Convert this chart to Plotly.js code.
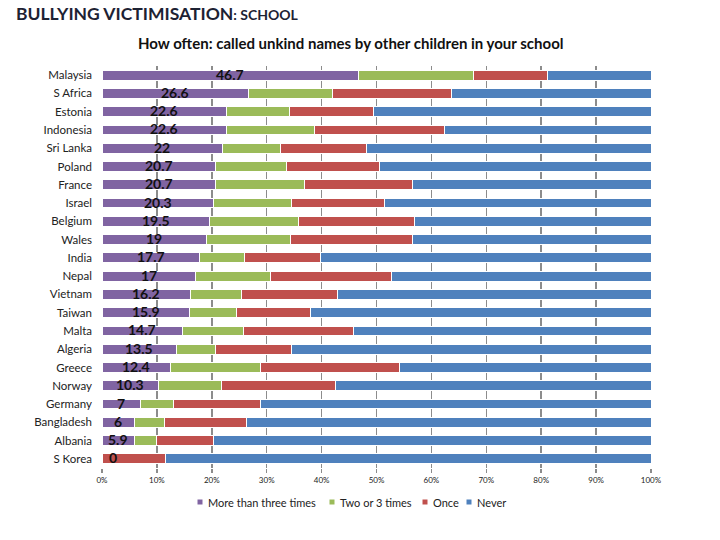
<!DOCTYPE html>
<html>
<head>
<meta charset="utf-8">
<script src="https://cdn.plot.ly/plotly-3.0.1.min.js"></script>
<style>html,body{margin:0;padding:0;background:#fff;}#chart{width:720px;height:540px;}</style>
</head>
<body>
<div id="chart"></div>
<script>
const countries = ["Malaysia","S Africa","Estonia","Indonesia","Sri Lanka","Poland","France","Israel","Belgium","Wales","India","Nepal","Vietnam","Taiwan","Malta","Algeria","Greece","Norway","Germany","Bangladesh","Albania","S Korea"];
const moreThanThree = [46.7,26.6,22.6,22.6,22,20.7,20.7,20.3,19.5,19,17.7,17,16.2,15.9,14.7,13.5,12.4,10.3,7,6,5.9,0];
const twoOrThree   = [21.0,15.3,11.5,16.1,10.5,12.9,16.2,14.3,16.3,15.3,8.2,13.7,9.2,8.6,11.0,7.1,16.5,11.4,6.1,5.3,4.1,0];
const once         = [13.4,21.8,15.3,23.6,15.6,17.0,19.6,16.8,21.2,22.3,13.9,22.0,17.5,13.4,20.2,13.9,25.3,20.8,15.7,15.0,10.3,11.5];
const never        = [18.9,36.3,50.6,37.7,51.9,49.4,43.5,48.6,43.0,43.4,60.2,47.3,57.1,62.1,54.1,65.5,45.8,57.5,71.2,73.7,79.7,88.5];
const seriesNames = ["More than three times","Two or 3 times","Once","Never"];
const colors = ["#8064A2","#9BBB59","#C0504D","#4F81BD"];

const FONT = "Lato, 'Open Sans', sans-serif";
const M = {l: 102, r: 69, t: 66, b: 72};
const W = 720, H = 540;
const pw = W - M.l - M.r, ph = H - M.t - M.b;
const px = x => (x - M.l) / pw;
const py = y => (H - M.b - y) / ph;

const allSeries = [moreThanThree, twoOrThree, once, never];
const traces = allSeries.map((vals, i) => ({
  type: "bar", orientation: "h",
  x: vals, y: countries, name: seriesNames[i],
  marker: {color: colors[i], line: {color: "#ffffff", width: 1}},
  showlegend: false, hoverinfo: "x+name"
}));

// data labels for the first series, centred in its segment
const dataLabels = countries.map((c, i) => ({
  xref: "x", yref: "y", x: Math.max(moreThanThree[i] / 2, 2), y: c,
  text: "<b>" + moreThanThree[i] + "</b>", showarrow: false,
  xanchor: "center", yanchor: "middle", yshift: 1,
  font: {family: FONT, size: 14, color: "#111"}
}));

// manual legend (small square markers as in the reference)
const legendMarkX = [200, 332, 425, 469];
const legendY = 502;
const shapes = legendMarkX.map((x, i) => ({
  type: "rect", xref: "paper", yref: "paper",
  x0: px(x - 2.5), x1: px(x + 2.5), y0: py(legendY + 2.5), y1: py(legendY - 2.5),
  fillcolor: colors[i], line: {width: 0}
}));
const legendAnn = legendMarkX.map((x, i) => ({
  xref: "paper", yref: "paper", x: px(x + 6), y: py(legendY), xanchor: "left", yanchor: "middle",
  text: seriesNames[i], showarrow: false, font: {size: 11, family: FONT, color: "#222"}
}));

const layout = {
  width: W, height: H,
  margin: M,
  barmode: "stack", bargap: 0.46,
  paper_bgcolor: "#fff", plot_bgcolor: "#fff",
  font: {family: FONT, size: 10, color: "#222"},
  showlegend: false,
  xaxis: {
    range: [0, 100], dtick: 10, ticksuffix: "%",
    showgrid: true, gridcolor: "#8c8c8c", gridwidth: 1.5,
    zeroline: false, showline: false,
    ticks: "outside", ticklen: 4, tickcolor: "#8c8c8c", tickwidth: 1.5,
    tickfont: {size: 8, family: FONT, color: "#222"},
    fixedrange: true
  },
  yaxis: {
    range: [21.5, -0.5], type: "category",
    showgrid: false, zeroline: false, showline: false,
    ticks: "", ticklabelstandoff: 9,
    tickfont: {size: 11.5, family: FONT, color: "#222"},
    fixedrange: true
  },
  shapes: shapes,
  annotations: [
    {xref: "paper", yref: "paper", x: px(14), y: py(13), xanchor: "left", yanchor: "middle",
     text: "<b>BULLYING VICTIMISATION</b><b><span style='font-size:14px'>: SCHOOL</span></b>",
     showarrow: false, font: {size: 17.5, family: FONT, color: "#1d2233"}},
    {xref: "paper", yref: "paper", x: px(350), y: py(43), xanchor: "center", yanchor: "middle",
     text: "<b>How often: called unkind names by other children in your school</b>",
     showarrow: false, font: {size: 15, family: FONT, color: "#111"}}
  ].concat(legendAnn, dataLabels)
};

Plotly.newPlot("chart", traces, layout, {displayModeBar: false, staticPlot: true});
</script>
</body>
</html>
